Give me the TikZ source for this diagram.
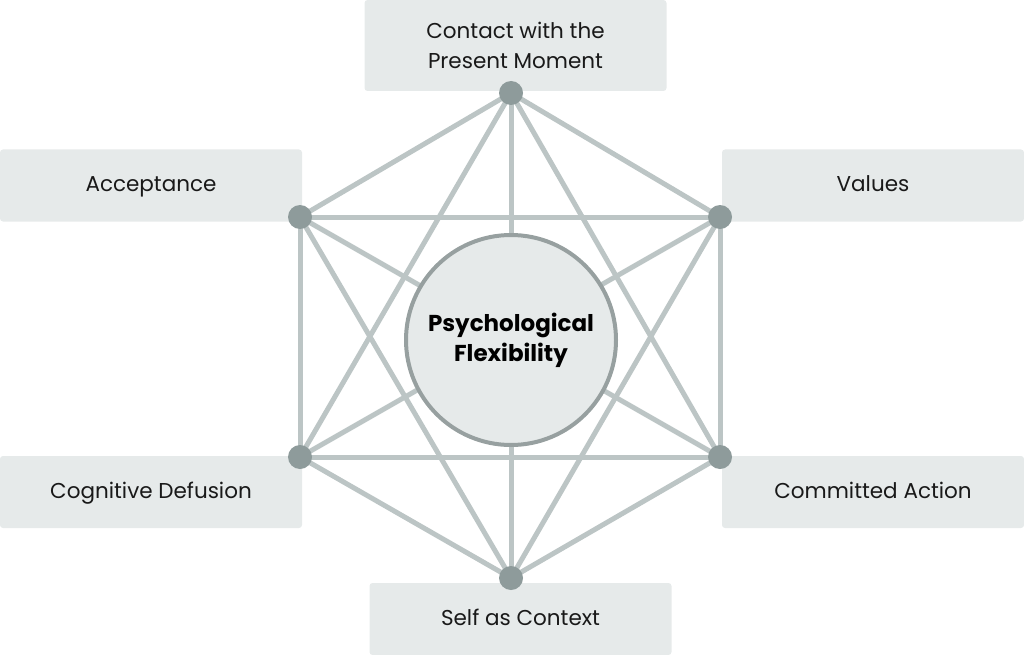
\documentclass[tikz,border=0pt]{standalone}
\usepackage{fontspec}
\setmainfont{Poppins}
\definecolor{boxgray}{HTML}{E6EAEA}
\definecolor{linegray}{HTML}{BCC5C5}
\definecolor{dotgray}{HTML}{8E9B9B}
\definecolor{ringgray}{HTML}{97A0A0}
\tikzset{
    facet/.style={rectangle, rounded corners=3pt, fill=boxgray, minimum width=302pt, minimum height=72pt, align=center, font=\fontsize{21.5}{30}\selectfont, text=black!90},
    edge/.style={linegray, line width=5pt},
    hub/.style={circle, fill=dotgray, minimum size=24pt, inner sep=0pt},
}

\begin{document}
\begin{tikzpicture}[x=1pt, y=-1pt]
    \useasboundingbox (0,0) rectangle (1024,655);

    \node[facet, minimum height=91pt] at (515.5,45.5) (present) {Contact with the\\Present Moment};
    \node[facet] at (151,185.5) (accept) {\strut Acceptance};
    \node[facet] at (873,185.5) (values) {\strut Values};
    \node[facet] at (151,492) (defuse) {\strut Cognitive Defusion};
    \node[facet] at (873,492) (commit) {\strut Committed Action};
    \node[facet] at (520.5,619) (self) {\strut Self as Context};

    \coordinate (t) at (511,93);
    \coordinate (ul) at (300,217);
    \coordinate (ur) at (720,217);
    \coordinate (ll) at (300,457);
    \coordinate (lr) at (720,457);
    \coordinate (b) at (511,578);

    \foreach \a/\b in {t/ul, t/ur, t/ll, t/lr, t/b, ul/ur, ul/ll, ul/lr, ul/b, ur/ll, ur/lr, ur/b, ll/lr, ll/b, lr/b}
        \draw[edge] (\a) -- (\b);

    \foreach \v in {t, ul, ur, ll, lr, b}
        \node[hub] at (\v) (dot-\v) {};

    \node[circle, draw=ringgray, line width=4pt, fill=boxgray, minimum size=210pt, align=center, font=\fontsize{23}{30}\selectfont\bfseries] at (511,340) (flex) {Psychological\\Flexibility};

\end{tikzpicture}
\end{document}
